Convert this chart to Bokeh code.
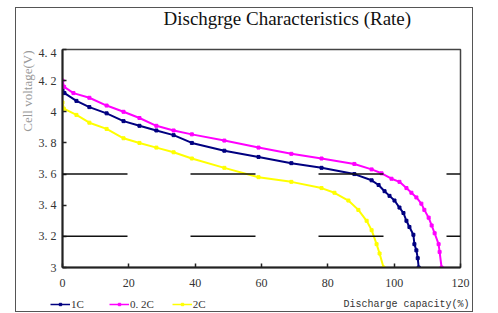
from bokeh.plotting import figure
from bokeh.layouts import column
from bokeh.models import (Legend, LegendItem, Span, FixedTicker, Title, Label,
                          CustomJSTickFormatter, Range1d)
from bokeh.embed import file_html
from bokeh.resources import INLINE

# ---- data ----
x_02c = [0, 0.5, 3.3, 8.1, 13.3, 18.4, 23.2, 28.3, 33.5, 39.0, 48.8, 59.1, 69.0, 78.1,
         88.0, 93.2, 96.2, 99.2, 101.6, 103.7, 105.2, 106.7, 108.2, 109.1, 110.4, 111.3,
         112.2, 113.4, 113.7, 114.3]
y_02c = [4.20, 4.16, 4.12, 4.09, 4.04, 4.00, 3.96, 3.91, 3.88, 3.855, 3.815, 3.77, 3.73, 3.70,
         3.665, 3.63, 3.605, 3.57, 3.55, 3.51, 3.48, 3.45, 3.41, 3.37, 3.32, 3.27,
         3.22, 3.15, 3.10, 3.00]

x_1c = [0, 0.6, 4.2, 8.1, 13.3, 18.4, 23.2, 28.3, 33.5, 39.0, 48.8, 59.1, 69.0, 78.1,
        88.0, 93.2, 95.3, 97.1, 98.6, 100.1, 101.6, 102.8, 103.7, 104.6, 105.8, 106.1,
        106.7, 107.1, 107.4]
y_1c = [4.14, 4.12, 4.07, 4.03, 3.99, 3.94, 3.91, 3.88, 3.85, 3.80, 3.75, 3.71, 3.67, 3.64,
        3.60, 3.56, 3.53, 3.49, 3.46, 3.43, 3.385, 3.35, 3.30, 3.26, 3.21, 3.15,
        3.11, 3.06, 3.00]

x_2c = [0, 0.4, 4.2, 8.1, 13.3, 18.4, 23.2, 28.3, 33.5, 39.0, 48.8, 59.1, 69.0, 78.1,
        82.0, 86.2, 89.2, 91.7, 93.2, 94.7, 95.6, 96.8]
y_2c = [4.06, 4.02, 3.98, 3.93, 3.89, 3.83, 3.80, 3.77, 3.74, 3.70, 3.64, 3.58, 3.55, 3.51,
        3.48, 3.43, 3.37, 3.30, 3.24, 3.15, 3.09, 3.00]

x_ticks = [0, 20, 40, 60, 80, 100, 120]
y_ticks = [3.0, 3.2, 3.4, 3.6, 3.8, 4.0, 4.2, 4.4]
grid_levels = [3.2, 3.6]
series_labels = ["1C", "0. 2C", "2C"]
colors = ["#000080", "#ff00ff", "#ffff00"]

title_text = "Dischgrge Characteristics (Rate)"
x_title = "Discharge capacity(%)"
y_title = "Cell voltage(V)"

SERIF = "Liberation Serif"
MONO = "Liberation Mono"
W = 455

data = [(x_1c, y_1c), (x_02c, y_02c), (x_2c, y_2c)]


def strip(height):
    s = figure(width=W, height=height, x_range=Range1d(0, W), y_range=Range1d(0, height),
               x_axis_type=None, y_axis_type=None, output_backend="svg",
               toolbar_location=None, min_border=0, min_border_left=0,
               min_border_right=0, min_border_top=0, min_border_bottom=0,
               background_fill_color="white", border_fill_color="white")
    s.outline_line_color = None
    if "frame_align" in s.properties():
        s.frame_align = False
    return s


# ---- top strip: title ----
top = strip(37)
top.add_layout(Label(x=147, y=27, text=title_text, text_font=SERIF, text_font_size="19px",
                     text_color="#111111", text_align="left", text_baseline="middle"))

# ---- main chart ----
p = figure(frame_width=398, frame_height=218,
           min_border_left=45, min_border_right=12, min_border_top=4, min_border_bottom=29,
           x_range=Range1d(0, 120), y_range=Range1d(3, 4.4),
           output_backend="svg", toolbar_location=None,
           background_fill_color="white", border_fill_color="white")
p.title.text = ""
p.xgrid.visible = False
p.ygrid.visible = False
p.outline_line_color = "#444444"
p.outline_line_width = 1.5

for ax in (p.xaxis[0], p.yaxis[0]):
    ax.axis_line_color = "#222222"
    ax.axis_line_width = 2
    ax.major_tick_in = 4
    ax.major_tick_out = 0
    ax.minor_tick_line_color = None
    ax.major_tick_line_color = "#222222"
    ax.major_tick_line_width = 1.5
    ax.major_label_text_font = SERIF
    ax.major_label_text_font_size = "12px"
    ax.major_label_text_color = "#333333"

p.xaxis.ticker = FixedTicker(ticks=x_ticks)
p.yaxis.ticker = FixedTicker(ticks=y_ticks)
p.yaxis.formatter = CustomJSTickFormatter(
    code="const s = (Math.round(tick*10)/10).toString(); return s.replace('.', '. ');")
p.xaxis.major_label_standoff = 11
p.yaxis.major_label_standoff = 6

for lv in grid_levels:
    p.add_layout(Span(location=lv, dimension="width", line_color="#111111",
                      line_width=1.5, line_dash="65 63"))

for (xs, ys), c in zip(data, colors):
    p.line(xs, ys, line_color=c, line_width=2)
    p.scatter(xs, ys, marker="square", size=3, color=c)

p.add_layout(Title(text=y_title, text_font=SERIF, text_font_size="13px",
                   text_font_style="normal", text_color="#999999",
                   align="right", offset=1, standoff=2), "left")

# ---- bottom strip: legend + x title ----
bot = strip(15)
bot.extra_y_ranges = {"hidden": Range1d(100, 200)}   # legend renderers drawn off-range
items = []
for (xs, ys), c, lab in zip(data, colors, series_labels):
    r1 = bot.line(xs, ys, line_color=c, line_width=1.5, y_range_name="hidden")
    r2 = bot.scatter(xs, ys, marker="square", size=3, color=c, y_range_name="hidden")
    items.append(LegendItem(label=lab, renderers=[r1, r2]))
legend = Legend(items=items, orientation="horizontal", location=(34, 1),
                background_fill_alpha=0, border_line_color=None,
                label_text_font=SERIF, label_text_font_size="11px",
                label_text_color="#333333", glyph_width=20, glyph_height=6,
                label_standoff=1, spacing=18, padding=0, margin=0,
                label_height=12)
bot.add_layout(legend, "center")
bot.add_layout(Label(x=327, y=7.5, text=x_title, text_font=MONO, text_font_size="10px",
                     text_color="#333333", text_align="left", text_baseline="middle"))

layout = column(top, p, bot, spacing=0, margin=(8, 0, 0, 16),
                styles={"outline": "1.5px solid #555555"})

open("out.html", "w").write(file_html(layout, INLINE))
